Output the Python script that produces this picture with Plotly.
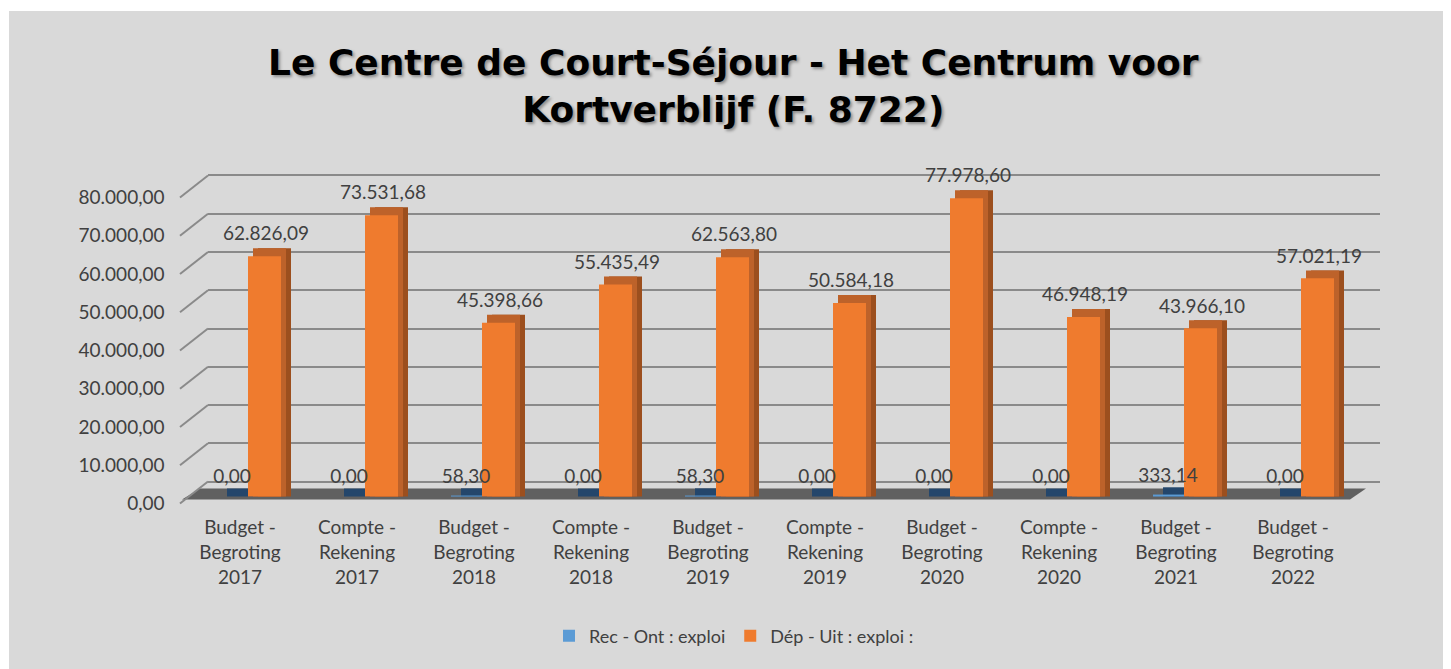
import plotly.graph_objects as go

# ---------------- data ----------------
categories = [
    "Budget -<br>Begroting<br>2017", "Compte -<br>Rekening<br>2017",
    "Budget -<br>Begroting<br>2018", "Compte -<br>Rekening<br>2018",
    "Budget -<br>Begroting<br>2019", "Compte -<br>Rekening<br>2019",
    "Budget -<br>Begroting<br>2020", "Compte -<br>Rekening<br>2020",
    "Budget -<br>Begroting<br>2021", "Budget -<br>Begroting<br>2022",
]
rec_values = [0.00, 0.00, 58.30, 0.00, 58.30, 0.00, 0.00, 0.00, 333.14, 0.00]
dep_values = [62826.09, 73531.68, 45398.66, 55435.49, 62563.80,
              50584.18, 77978.60, 46948.19, 43966.10, 57021.19]
series_names = ["Rec - Ont : exploi", "Dép - Uit : exploi :"]
y_ticks = [0, 10000, 20000, 30000, 40000, 50000, 60000, 70000, 80000]
title_text = "Le Centre de Court-Séjour - Het Centrum voor<br>Kortverblijf (F. 8722)"


def fmt(v):
    s = f"{v:,.2f}"
    return s.replace(",", "X").replace(".", ",").replace("X", ".")


# ---------------- geometry (pixels in the screenshot) ----------------
W, H = 1451, 669
OFF = 8                    # page body margin
PLOT_TOP, PLOT_BOT = 160, 514
K = 307 / 80000            # px per unit
BASE_PX = 498              # bar zero
GRID_PX = 483              # back-wall zero
LABEL_PX = 505             # front label zero
DEPTH_X, DEPTH_Y = 10, 8   # 3D depth offset
CAT = 117                  # px per category
X0 = 181.5                 # left edge of bar area
FONT = "Lato"
TXT = "#404040"


def yrange(zero_px):
    return [(zero_px - PLOT_BOT) / K, (zero_px - PLOT_TOP) / K]


def px(x):
    return (x - OFF) / W


def py(y):
    return 1 - (y - OFF) / H


ydom = [py(PLOT_BOT), py(PLOT_TOP)]
n = len(categories)
xs = list(range(n))
depth_val = DEPTH_Y / K

fig = go.Figure()

# invisible trace to keep back-wall subplot alive
fig.add_trace(go.Scatter(x=[0], y=[0], xaxis="x", yaxis="y", mode="markers",
                         marker=dict(opacity=0), hoverinfo="skip", showlegend=False))

# blue series (depth + front)
fig.add_trace(go.Bar(x=xs, y=[v + depth_val for v in rec_values], base=0,
                     offset=(-23 + DEPTH_X) / CAT, width=31 / CAT,
                     marker=dict(color="#24466b", line_width=0),
                     xaxis="x2", yaxis="y2", showlegend=False, hoverinfo="skip"))
fig.add_trace(go.Bar(x=xs, y=rec_values, offset=-23 / CAT, width=31 / CAT,
                     marker=dict(color="#5b9bd5", line_width=0), name=series_names[0],
                     xaxis="x2", yaxis="y2"))
# orange series (depth + top + front)
fig.add_trace(go.Bar(x=xs, y=[v + depth_val for v in dep_values], base=0,
                     offset=(8 + DEPTH_X) / CAT, width=33 / CAT,
                     marker=dict(color="#9c4f1e", line_width=0),
                     xaxis="x2", yaxis="y2", showlegend=False, hoverinfo="skip"))
fig.add_trace(go.Bar(x=xs, y=[v + depth_val for v in dep_values], base=0,
                     offset=(8 + DEPTH_X / 2) / CAT, width=33 / CAT,
                     marker=dict(color="#bd622a", line_width=0),
                     xaxis="x2", yaxis="y2", showlegend=False, hoverinfo="skip"))
fig.add_trace(go.Bar(x=xs, y=dep_values, offset=8 / CAT, width=33 / CAT,
                     marker=dict(color="#ef7b2e", line_width=0), name=series_names[1],
                     xaxis="x2", yaxis="y2"))

# value labels
fig.add_trace(go.Scatter(x=[i - 8 / CAT for i in xs], y=rec_values, mode="markers+text",
                         text=[fmt(v) for v in rec_values], textposition="top center",
                         textfont=dict(family=FONT, size=19, color=TXT),
                         marker=dict(size=12, opacity=0), xaxis="x2", yaxis="y2",
                         cliponaxis=False, showlegend=False, hoverinfo="skip"))
fig.add_trace(go.Scatter(x=[i + 26 / CAT for i in xs], y=dep_values, mode="markers+text",
                         text=[fmt(v) for v in dep_values], textposition="top center",
                         textfont=dict(family=FONT, size=19, color=TXT),
                         marker=dict(size=16, opacity=0), xaxis="x2", yaxis="y2",
                         cliponaxis=False, showlegend=False, hoverinfo="skip"))

shapes = []
# grey background panel
shapes.append(dict(type="rect", xref="paper", yref="paper", x0=px(9), x1=1.02,
                   y0=-0.02, y1=py(11), fillcolor="#d9d9d9", line_width=0, layer="below"))
# floor
floor = (f"M {px(182)},{py(501)} L {px(1350)},{py(501)} "
         f"L {px(1366)},{py(490)} L {px(200)},{py(490)} Z")
shapes.append(dict(type="path", xref="paper", yref="paper", path=floor,
                   fillcolor="#606060", line_width=0, layer="below"))
# slanted side-wall lines
for v in y_ticks:
    shapes.append(dict(type="line", xref="paper", yref="paper",
                       x0=px(180), y0=py(LABEL_PX - v * K),
                       x1=px(208), y1=py(GRID_PX - v * K),
                       line=dict(color="#8a8a8a", width=2), layer="below"))

fig.update_layout(
    width=W, height=H,
    margin=dict(l=0, r=0, t=0, b=0),
    paper_bgcolor="white", plot_bgcolor="rgba(0,0,0,0)",
    barmode="overlay",
    shapes=shapes,
    xaxis=dict(domain=[px(208), px(1380)], range=[0, 1], showgrid=False,
               zeroline=False, showticklabels=False, ticks="", anchor="y"),
    yaxis=dict(domain=ydom, range=yrange(GRID_PX), tickvals=y_ticks,
               showgrid=True, gridcolor="#8a8a8a", gridwidth=2,
               zeroline=False, showticklabels=False, ticks="", anchor="x"),
    xaxis2=dict(domain=[px(X0), px(X0 + CAT * n)], range=[-0.5, n - 0.5],
                tickvals=xs, ticktext=categories, showgrid=False, zeroline=False,
                ticks="", anchor="y2", ticklabelstandoff=2,
                tickfont=dict(family=FONT, size=19, color=TXT)),
    yaxis2=dict(domain=ydom, range=yrange(BASE_PX),
                tickvals=[v - (LABEL_PX - BASE_PX) / K for v in y_ticks],
                ticktext=[fmt(v) for v in y_ticks],
                showgrid=False, zeroline=False, ticks="", anchor="x2",
                ticklabelstandoff=16,
                tickfont=dict(family=FONT, size=19, color=TXT)),
    legend=dict(orientation="h", x=px(734), xanchor="center", y=py(638),
                yanchor="middle", font=dict(family=FONT, size=18, color=TXT),
                bgcolor="rgba(0,0,0,0)", traceorder="normal"),
    annotations=[dict(text=title_text, xref="paper", yref="paper",
                      x=px(733), y=py(86), xanchor="center", yanchor="middle",
                      showarrow=False,
                      font=dict(family="DejaVu Sans", size=36, color="black", weight="bold",
                                shadow="2px 2px 3px rgba(0,0,0,0.35)"))],
)

fig.write_html("out.html")
